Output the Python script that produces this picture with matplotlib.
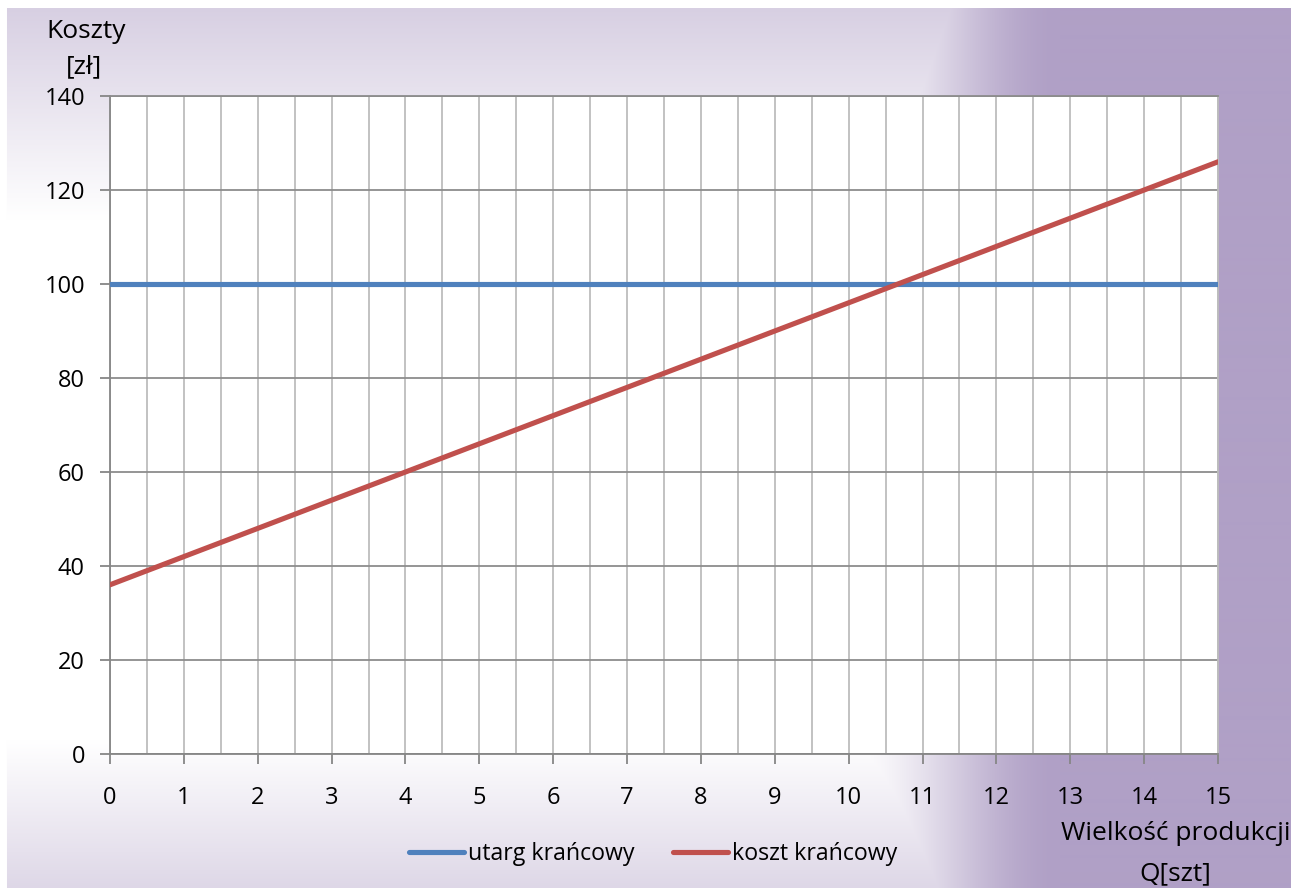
import numpy as np
import matplotlib
matplotlib.use("Agg")
import matplotlib.pyplot as plt

plt.rcParams['font.family'] = ['Open Sans', 'DejaVu Sans']

# Wielkość produkcji i koszty krańcowe
q = [0, 1, 2, 3, 4, 5, 6, 7, 8, 9, 10, 11, 12, 13, 14, 15]
utarg = [100, 100, 100, 100, 100, 100, 100, 100, 100, 100, 100, 100, 100, 100, 100, 100]
koszt = [36, 42, 48, 54, 60, 66, 72, 78, 84, 90, 96, 102, 108, 114, 120, 126]

W, H = 1295, 888
fig = plt.figure(figsize=(W / 100, H / 100), dpi=100)

# tło: biały środek przechodzący w fiolet po prawej, lekko u góry i u dołu
purple = np.array([176, 160, 198]) / 255.0
xx = np.arange(W)
yy = np.arange(H)
fx = np.clip((xx - 840) / 220.0, 0, 1)
fx = fx * fx * (3 - 2 * fx)
fy = np.maximum(np.clip((220 - yy) / 210.0, 0, 1) * 0.5,
                np.clip((yy - 740) / 148.0, 0, 1) * 0.42)
f = np.maximum(fx[None, :], fy[:, None])
bg = 1 - f[..., None] * (1 - purple[None, None, :])
bg[:9, :, :] = 1
bg[:, :7, :] = 1
bg[:, 1291:, :] = 1

bg_ax = fig.add_axes([0, 0, 1, 1], zorder=0)
bg_ax.imshow(bg, aspect='auto', extent=(0, 1, 0, 1), interpolation='bilinear')
bg_ax.axis('off')

ax = fig.add_axes([110 / W, 1 - 754 / H, 1108 / W, 658 / H], zorder=1)
ax.set_facecolor('white')

ax.plot(q, utarg, color='#4F81BD', lw=3.7, solid_capstyle='round', label='utarg krańcowy', zorder=3)
ax.plot(q, koszt, color='#C0504D', lw=3.7, solid_capstyle='round', label='koszt krańcowy', zorder=3)

ax.set_xlim(0, 15)
ax.set_ylim(0, 140)
ax.set_xticks(range(0, 16))
ax.set_xticks(np.arange(0.5, 15, 1.0), minor=True)
ax.set_yticks(range(0, 141, 20))

ax.grid(axis='x', which='both', color='#BDBDBD', lw=1.3)
ax.grid(axis='y', which='major', color='#8C8C8C', lw=1.3)
ax.set_axisbelow(True)

for side in ['left', 'bottom']:
    ax.spines[side].set_color('#868686')
    ax.spines[side].set_linewidth(1.3)
ax.spines['top'].set_color('#8C8C8C')
ax.spines['top'].set_linewidth(1.3)
ax.spines['right'].set_color('#BDBDBD')
ax.spines['right'].set_linewidth(1.3)

ax.tick_params(axis='both', which='major', direction='out', length=7, width=1.3,
               color='#868686', labelsize=17, labelcolor='black')
ax.tick_params(axis='x', which='major', pad=16)
ax.tick_params(axis='y', which='major', pad=11)
ax.tick_params(axis='x', which='minor', length=0)

fig.text(86 / W, 1 - 31 / H, 'Koszty', fontsize=19, ha='center', va='center')
fig.text(84 / W, 1 - 67 / H, '[zł]', fontsize=19, ha='center', va='center')
fig.text(1176 / W, 1 - 833 / H, 'Wielkość produkcji', fontsize=19, ha='center', va='center')
fig.text(1175 / W, 2 / H, 'Q[szt]', fontsize=19, ha='center', va='bottom')

leg = fig.legend(loc='center', bbox_to_anchor=(653 / W, 1 - 854 / H), ncol=2, frameon=False,
                 fontsize=16.7, handlelength=2.37, handletextpad=0.17, columnspacing=1.64,
                 borderaxespad=0, borderpad=0)
leg.set_zorder(2)

fig.savefig('out.png', dpi=100)
